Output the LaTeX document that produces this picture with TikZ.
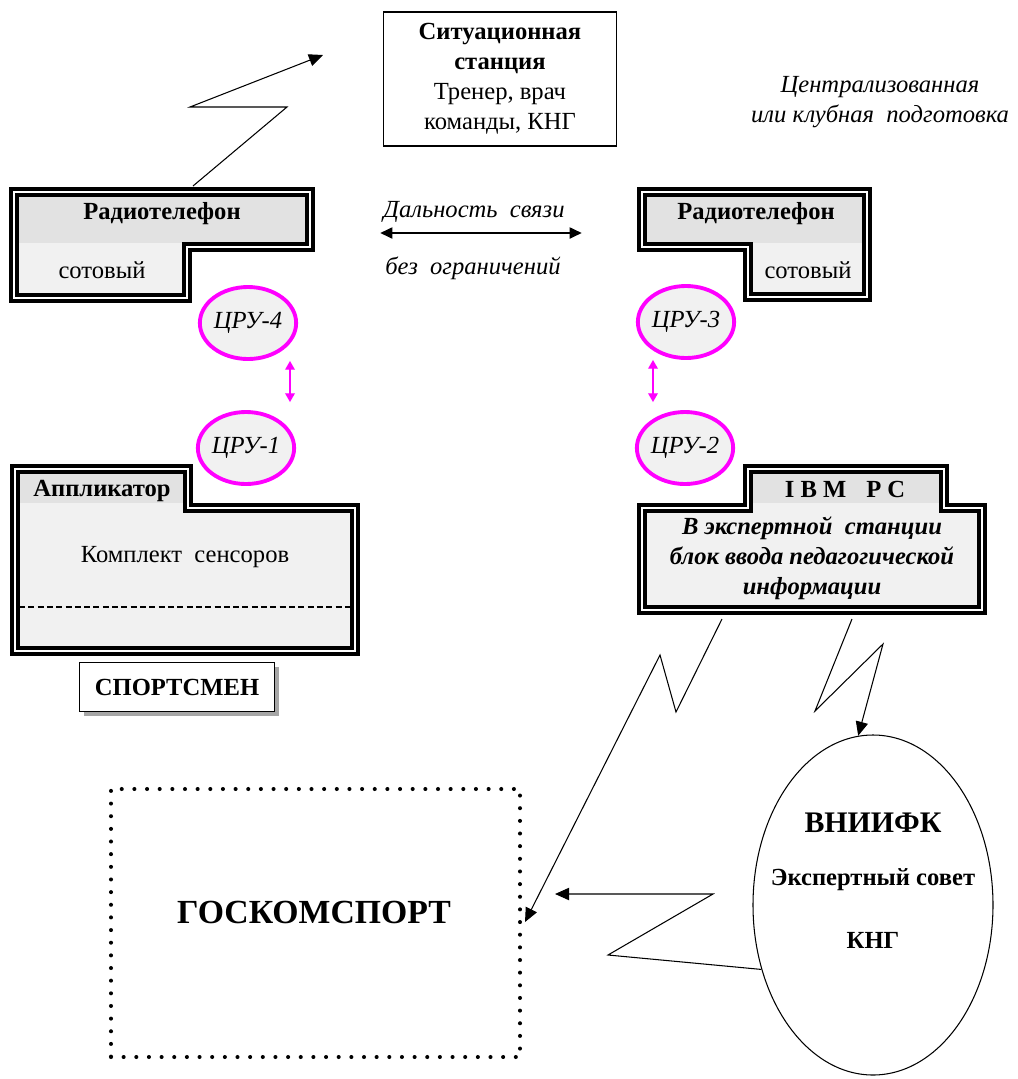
\documentclass[tikz,border=0pt]{standalone}
\usepackage{fontspec}
\setmainfont{Liberation Serif}
\usepackage{xcolor}
\usetikzlibrary{arrows.meta, positioning, calc, shapes.geometric, shadows}
\newlength{\upx}
\setlength{\upx}{0.02cm}
\definecolor{hdrgray}{HTML}{E2E2E2}
\definecolor{boxgray}{HTML}{F1F1F1}
\definecolor{cruline}{HTML}{FF00FF}
\newcommand{\ftx}{\fontsize{14}{17}\selectfont}
\newcommand{\fbig}{\fontsize{19.2}{23}\selectfont}
% framed block: #1 outline, #2 header area
\newcommand{\wframe}[2]{%
  \fill[boxgray] #1;
  \fill[hdrgray] #2;
  \draw[line width=2.1pt, double=white, double distance=1.5pt] #1;}

\begin{document}
\begin{tikzpicture}[x=0.02cm, y=-0.02cm, every node/.style={font=\ftx},
  cru/.style={ellipse, draw=cruline, line width=2.2pt, fill=boxgray,
    minimum width=93\upx, minimum height=72\upx, inner sep=0pt, font=\ftx\itshape},
  cruarr/.style={draw=cruline, line width=0.8pt,
    {Triangle[length=5pt,width=5.5pt]}-{Triangle[length=5pt,width=5.5pt]}},
  zig/.style={line width=0.6pt, -{Triangle[length=8pt,width=7pt]}}]
\useasboundingbox (0,0) rectangle (1018,1079);
% situation station
\node[draw, line width=0.6pt, minimum width=233\upx, minimum height=134\upx,
  align=center] (sit) at (500,79)
  {\textbf{Ситуационная}\\\textbf{станция}\\Тренер, врач\\команды, КНГ};
\node[align=center, font=\ftx\itshape] (cent) at (880,102)
  {Централизованная\\или клубная~~подготовка};
% radiotelephones
\wframe{(14,192) -- (310,192) -- (310,247) -- (187,247) -- (187,298) -- (14,298) -- cycle}
  {(14,192) rectangle (310,243)}
\node[font=\ftx\bfseries] (rtL) at (162,214) {Радиотелефон};
\node (celL) at (102,270) {сотовый};
\wframe{(642,192) -- (867,192) -- (867,297) -- (748,297) -- (748,247) -- (642,247) -- cycle}
  {(642,192) rectangle (867,243)}
\node[font=\ftx\bfseries] (rtR) at (756,214) {Радиотелефон};
\node (celR) at (808,270) {сотовый};
% range
\node[font=\ftx\itshape] (rng1) at (474,212) {Дальность~~связи};
\node[font=\ftx\itshape] (rng2) at (473,268) {без~~ограничений};
\coordinate (rngA) at (380,233);
\coordinate (rngB) at (582,233);
\draw[line width=1.7pt, {Triangle[length=7pt,width=6pt]}-{Triangle[length=7pt,width=6pt]}]
  (rngA) -- (rngB);
% CRU
\node[cru] (cru4) at (248,323) {ЦРУ-4};
\node[cru] (cru1) at (246,448) {ЦРУ-1};
\node[cru] (cru3) at (686,322) {ЦРУ-3};
\node[cru] (cru2) at (685,448) {ЦРУ-2};
\draw[cruarr] ($(cru4.south)+(42,0)$) -- ($(cru1.north)+(44,-8)$);
\draw[cruarr] ($(cru3.south)+(-33,0)$) -- ($(cru2.north)+(-32,-8)$);
% applicator
\wframe{(15,469) -- (188,469) -- (188,508) -- (355,508) -- (355,651) -- (15,651) -- cycle}
  {(15,469) rectangle (188,503)}
\node[font=\ftx\bfseries] (appl) at (102,491) {Аппликатор};
\node (sens) at (185,557) {Комплект~~сенсоров};
\draw[line width=0.85pt, dash pattern=on 3.4pt off 1.9pt] (19,607) -- (351,607);
\node[draw, line width=0.6pt, fill=white, minimum width=195\upx, minimum height=49\upx,
  font=\ftx\bfseries, drop shadow={shadow xshift=2.8pt, shadow yshift=-2.8pt,
  fill=gray!70, opacity=1}] (sport) at (177,687) {СПОРТСМЕН};
% IBM PC
\wframe{(748,469) -- (944,469) -- (944,508) -- (982,508) -- (982,610) -- (642,610) -- (642,508) -- (748,508) -- cycle}
  {(748,469) rectangle (944,503)}
\node[font=\ftx\bfseries] (ibmhd) at (845,489) {I B M\hspace{20\upx}P C};
\node[font=\ftx\bfseries\itshape, align=center] (ibm) at (812,558)
  {В экспертной~~станции\\блок ввода педагогической\\информации};
% goskomsport
\node[draw, line width=2.3pt, line cap=round, dash pattern=on 0pt off 7.2pt,
  minimum width=409\upx, minimum height=268\upx] (gosk) at (315.5,923) {};
\node[font=\fbig\bfseries] (gosktxt) at (314,912) {ГОСКОМСПОРТ};
% vniifk
\node[ellipse, draw, line width=0.6pt, minimum width=240\upx, minimum height=340\upx,
  inner sep=0pt] (vniifk) at (873,905) {};
\node[font=\fontsize{17}{20}\selectfont\bfseries] (vt1) at (873,823) {ВНИИФК};
\node[font=\ftx\bfseries] (vt2) at (873,880) {Экспертный совет};
\node[font=\ftx\bfseries] (vt3) at (873,940) {КНГ};
% radio links
\coordinate (upL) at (193,186);
\coordinate (skyL) at (323,55);
\draw[zig] (upL) -- ++(94,-79) -- ++(-97,0) -- (skyL);
\coordinate (ibmA) at (722,619);
\draw[zig] (ibmA) -- ++(-46,93) -- ++(-16,-57) -- ($(gosk.east)+(3,-1)$);
\coordinate (ibmB) at (852,619);
\draw[zig] (ibmB) -- ++(-37,92) -- ++(68,-67) -- (vniifk.95);
\draw[zig] (vniifk.210) -- (608,955) -- (713,894) -- ($(gosk.east)+(33,-29)$);
\end{tikzpicture}
\end{document}
